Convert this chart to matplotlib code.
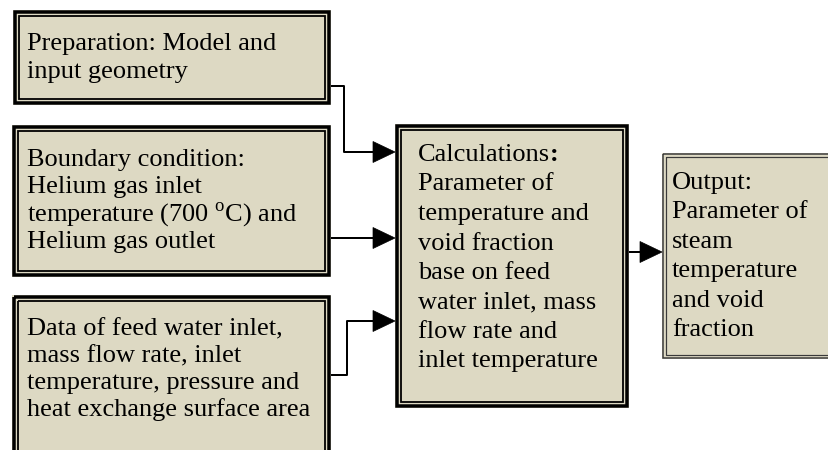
import matplotlib
matplotlib.use('Agg')
import matplotlib.pyplot as plt
from matplotlib.patches import Rectangle, Polygon

plt.rcParams['font.family'] = ['Liberation Serif', 'DejaVu Serif']
plt.rcParams['mathtext.fontset'] = 'custom'
plt.rcParams['mathtext.rm'] = 'Liberation Serif'

# box texts
prep_lines = ['Preparation: Model and', 'input geometry']
boundary_lines = ['Boundary condition:', 'Helium gas inlet',
                  'temperature (700 $^{\\mathrm{o}}$C) and', 'Helium gas outlet']
data_lines = ['Data of feed water inlet,', 'mass flow rate, inlet',
              'temperature, pressure and', 'heat exchange surface area']
calc_title = 'Calculations'
calc_lines = ['Parameter of', 'temperature and', 'void fraction',
              'base on feed', 'water inlet, mass', 'flow rate and',
              'inlet temperature']
output_lines = ['Output:', 'Parameter of', 'steam', 'temperature',
                'and void', 'fraction']

FILL = '#DDD9C3'
PX = 0.72  # points per pixel at dpi 100
FS = 19

fig = plt.figure(figsize=(8.29, 4.5), dpi=100)
ax = fig.add_axes([0, 0, 1, 1])
ax.set_xlim(0, 829)
ax.set_ylim(450, 0)
ax.axis('off')


def double_box(x0, y0, x1, y1, outer_w=3.5, gap=2, inner_w=1.8, color='black'):
    ax.add_patch(Rectangle((x0, y0), x1 - x0, y1 - y0, facecolor=FILL, edgecolor='none'))
    d = outer_w / 2
    ax.add_patch(Rectangle((x0 + d, y0 + d), x1 - x0 - 2 * d, y1 - y0 - 2 * d,
                           facecolor='none', edgecolor=color, lw=outer_w * PX))
    d = outer_w + gap + inner_w / 2
    ax.add_patch(Rectangle((x0 + d, y0 + d), x1 - x0 - 2 * d, y1 - y0 - 2 * d,
                           facecolor='none', edgecolor=color, lw=inner_w * PX))


def lines_text(x, y0, step, lines):
    for i, s in enumerate(lines):
        ax.text(x, y0 + i * step, s, fontsize=FS, va='baseline', ha='left', color='black')


def connector(xs, ys, tip_x):
    ax.plot(xs + [tip_x - 22], ys + [ys[-1]], color='black', lw=2 * PX, solid_capstyle='butt')
    y = ys[-1]
    ax.add_patch(Polygon([(tip_x - 22, y - 10.5), (tip_x, y), (tip_x - 22, y + 10.5)],
                         closed=True, facecolor='black', edgecolor='black', lw=0.5))


double_box(13, 10, 331, 105)
double_box(12, 125, 331, 277)
double_box(12, 295, 331, 470)
double_box(395, 124, 629, 408)
double_box(662, 153, 850, 359, outer_w=1.5, gap=1.5, inner_w=1.2, color='#3a3a3a')

lines_text(27, 50, 28, prep_lines)
lines_text(27, 166, 27.3, boundary_lines)
lines_text(27, 335, 27, data_lines)

t = ax.text(418, 161, calc_title, fontsize=FS, va='baseline', ha='left')
fig.canvas.draw()
bb = t.get_window_extent(renderer=fig.canvas.get_renderer())
x_end = ax.transData.inverted().transform((bb.x1, bb.y0))[0]
ax.text(x_end, 161, ':', fontsize=FS, va='baseline', ha='left', fontweight='bold')
lines_text(418, 161 + 29.5, 29.5, calc_lines)
lines_text(672, 189, 29.5, output_lines)

connector([331, 344, 344], [86, 86, 152], 395)
connector([331], [238], 395)
connector([331, 347, 347], [375, 375, 321], 395)
connector([629], [252], 662)

fig.savefig('out.png', dpi=100)
